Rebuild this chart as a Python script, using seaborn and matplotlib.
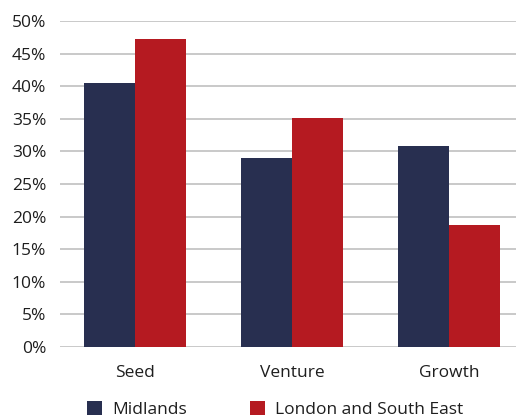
import pandas as pd
import matplotlib.pyplot as plt
import seaborn as sns
from matplotlib.ticker import FuncFormatter

# data
stages = ['Seed', 'Venture', 'Growth']
midlands = [40.5, 29.0, 30.8]
london_se = [47.2, 35.1, 18.7]
regions = ['Midlands', 'London and South East']
colours = ['#282f50', '#b51a21']

df = pd.DataFrame({
    'stage': stages * 2,
    'share': midlands + london_se,
    'region': [regions[0]] * 3 + [regions[1]] * 3,
})

sns.set_style('white')
plt.rcParams['font.family'] = ['Open Sans', 'DejaVu Sans']

fig = plt.figure(figsize=(5.16, 4.19), dpi=100)
ax = fig.add_axes([60 / 516, 72 / 419, 1 - 60 / 516, (347 - 21) / 419])

sns.barplot(data=df, x='stage', y='share', hue='region', palette=colours,
            width=0.65, saturation=1, linewidth=0, ax=ax, zorder=3)

ax.set_ylim(0, 50)
ax.set_yticks(range(0, 51, 5))
ax.yaxis.set_major_formatter(FuncFormatter(lambda v, p: f'{v:.0f}%'))
ax.set_xlim(-0.478, 2.427)
ax.grid(axis='y', color='#c0c0c0', linewidth=1.2, zorder=0)
ax.set_axisbelow(True)
for s in ax.spines.values():
    s.set_visible(False)
ax.tick_params(axis='y', length=0, pad=10, labelsize=12.5, labelcolor='#1e1e1e')
ax.tick_params(axis='x', length=0, pad=13, labelsize=12.5, labelcolor='#1e1e1e')
ax.set_xlabel('')
ax.set_ylabel('')

leg = ax.legend(loc='upper left', bbox_to_anchor=(0.045, -0.145), ncol=2, frameon=False,
                fontsize=12.5, handlelength=0.85, handleheight=0.85, handletextpad=0.6,
                columnspacing=3.6, borderaxespad=0)
for t in leg.get_texts():
    t.set_color('#1e1e1e')

fig.savefig('out.png', dpi=100)
